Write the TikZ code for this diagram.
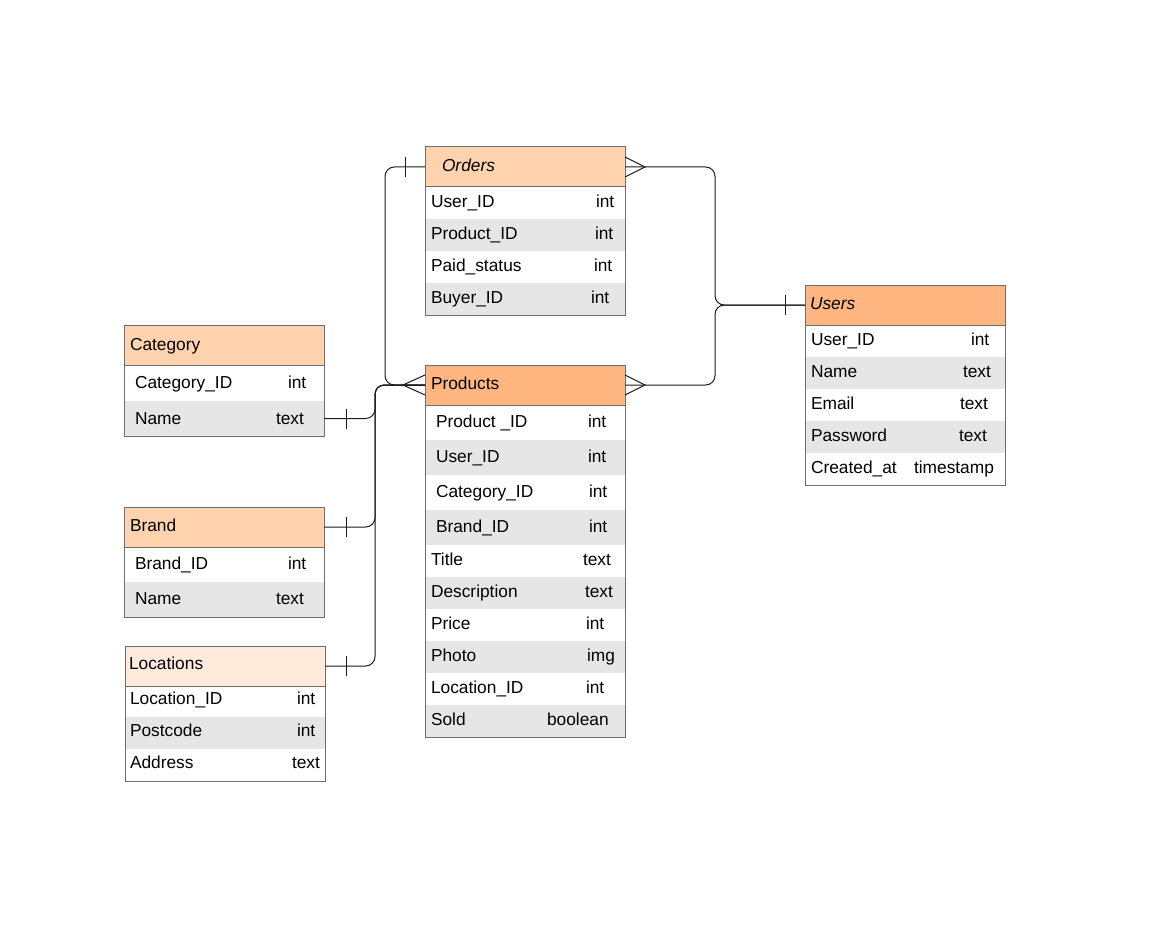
\documentclass[tikz,border=0pt]{standalone}
\usepackage{fontspec}
\setmainfont{Liberation Sans}
\definecolor{hdlight}{HTML}{FFD3AD}
\definecolor{hddark}{HTML}{FFB680}
\definecolor{hdpale}{HTML}{FFEADC}
\definecolor{rowgray}{HTML}{E6E6E6}
\definecolor{framegray}{HTML}{6E6E6E}
\definecolor{linecol}{HTML}{1A1A1A}
\tikzset{
  rowbox/.style={rectangle, inner sep=0, outer sep=0, minimum width=150pt, draw=none},
  headbox/.style={rectangle, inner sep=0, outer sep=0, minimum width=150pt, minimum height=30pt, draw=framegray, line width=0.75pt},
  tabframe/.style={rectangle, inner sep=0, outer sep=0, minimum width=150pt, draw=framegray, line width=0.75pt},
  fieldtext/.style={anchor=base west, inner sep=0, outer sep=0, font=\fontsize{13}{15}\selectfont},
  conn/.style={draw=linecol, line width=0.75pt, rounded corners=7pt},
  tickline/.style={draw=linecol, line width=0.75pt}
}
\newcommand\tabrow[9]{%
  \node[rowbox, fill=#5, minimum height={#4*0.75pt}] (#1) at ({#2+100},{#3+#4/2}) {};
  \node[fieldtext] (#1-n) at (#6,{#3+#4/2+\tblofs}) {#7};
  \node[fieldtext] (#1-t) at (#8,{#3+#4/2+\tblofs}) {#9};}
\newcommand\tabbox[4]{\node[tabframe, minimum height={#4*0.75pt}] (#1) at ({#2+100},{#3+#4/2}) {};}
\newcommand\tabhead[6]{%
  \node[headbox, fill=#4] (#1) at ({#2+100},{#3+20}) {};
  \node[fieldtext] (#1-n) at (#5,{#3+20+\tblofs}) {#6};}
\begin{document}
\begin{tikzpicture}[x=0.75pt,y=-0.75pt]
\fill[white] (0,0) rectangle (1157,945);
\useasboundingbox (0,0) rectangle (1157,945);

% ---------- Orders ----------
\def\tblofs{4.5}
\tabrow{ord1}{425}{187}{32}{white}{431}{User\_ID}{596}{int}
\tabrow{ord2}{425}{219}{32}{rowgray}{431}{Product\_ID}{595}{int}
\tabrow{ord3}{425}{251}{32}{white}{431}{Paid\_status}{594}{int}
\tabrow{ord4}{425}{283}{32}{rowgray}{431}{Buyer\_ID}{591}{int}
\tabbox{orders}{425}{147}{168}
\tabhead{ordh}{425}{147}{hdlight}{442}{\itshape Orders}

% ---------- Products ----------
\def\tblofs{4.5}
\tabrow{pr1}{425}{405}{35}{white}{436}{Product \_ID}{588}{int}
\tabrow{pr2}{425}{440}{35}{rowgray}{436}{User\_ID}{588}{int}
\tabrow{pr3}{425}{475}{35}{white}{436}{Category\_ID}{589}{int}
\tabrow{pr4}{425}{510}{35}{rowgray}{436}{Brand\_ID}{589}{int}
\tabrow{pr5}{425}{545}{32}{white}{431}{Title}{583}{text}
\tabrow{pr6}{425}{577}{32}{rowgray}{431}{Description}{585}{text}
\tabrow{pr7}{425}{609}{32}{white}{431}{Price}{586}{int}
\tabrow{pr8}{425}{641}{32}{rowgray}{431}{Photo}{587}{img}
\tabrow{pr9}{425}{673}{32}{white}{431}{Location\_ID}{586}{int}
\tabrow{pr10}{425}{705}{32}{rowgray}{431}{Sold}{547}{boolean}
\tabbox{products}{425}{365}{372}
\tabhead{prodh}{425}{365}{hddark}{431}{Products}

% ---------- Users ----------
\def\tblofs{4}
\tabrow{us1}{805}{325}{32}{white}{811}{User\_ID}{971}{int}
\tabrow{us2}{805}{357}{32}{rowgray}{811}{Name}{963}{text}
\tabrow{us3}{805}{389}{32}{white}{811}{Email}{960}{text}
\tabrow{us4}{805}{421}{32}{rowgray}{811}{Password}{959}{text}
\tabrow{us5}{805}{453}{32}{white}{811}{Created\_at}{914}{timestamp}
\tabbox{users}{805}{285}{200}
\tabhead{usrh}{805}{285}{hddark}{810}{\itshape Users}

% ---------- Category ----------
\def\tblofs{5.5}
\tabrow{cat1}{124}{365}{36}{white}{135}{Category\_ID}{288}{int}
\tabrow{cat2}{124}{401}{35}{rowgray}{135}{Name}{276}{text}
\tabbox{category}{124}{325}{111}
\tabhead{cath}{124}{325}{hdlight}{130}{Category}

% ---------- Brand ----------
\def\tblofs{4.5}
\tabrow{br1}{124}{547}{35}{white}{135}{Brand\_ID}{288}{int}
\tabrow{br2}{124}{582}{35}{rowgray}{135}{Name}{276}{text}
\tabbox{brand}{124}{507}{110}
\tabhead{brdh}{124}{507}{hdlight}{130}{Brand}

% ---------- Locations ----------
\def\tblofs{3}
\tabrow{lo1}{125}{686}{31}{white}{130}{Location\_ID}{297}{int}
\tabrow{lo2}{125}{717}{32}{rowgray}{130}{Postcode}{297}{int}
\tabrow{lo3}{125}{749}{32}{white}{130}{Address}{292}{text}
\tabbox{locations}{125}{646}{135}
\tabhead{loch}{125}{646}{hdpale}{129}{Locations}

% ---------- bus coordinates ----------
\coordinate (lbus) at (375,0);
\coordinate (obus) at (385,0);
\coordinate (rbus) at (715,0);

% ---------- connectors ----------
\draw[conn] (ordh.west) -| (obus |- prodh.west) -- (prodh.west);
\draw[conn] (cat2.east) -| (lbus |- prodh.west) -- (prodh.west);
\draw[conn] (brdh.east) -| (lbus |- prodh.west) -- (prodh.west);
\draw[conn] (loch.east) -| (lbus |- prodh.west) -- (prodh.west);
\draw[conn] (ordh.east) -| (rbus |- usrh.west) -- (usrh.west);
\draw[conn] (prodh.east) -| (rbus |- usrh.west) -- (usrh.west);

% ---------- one-ticks ----------
\draw[tickline] ([shift={(-20,-10)}]ordh.west) -- ([shift={(-20,10)}]ordh.west);
\draw[tickline] ([shift={(22,-10)}]cat2.east) -- ([shift={(22,10)}]cat2.east);
\draw[tickline] ([shift={(22,-10)}]brdh.east) -- ([shift={(22,10)}]brdh.east);
\draw[tickline] ([shift={(21,-10)}]loch.east) -- ([shift={(21,10)}]loch.east);
\draw[tickline] ([shift={(-20,-10)}]usrh.west) -- ([shift={(-20,10)}]usrh.west);

% ---------- crow's feet ----------
\draw[tickline] ([shift={(0,-10)}]prodh.west) -- ([shift={(-22,0)}]prodh.west) -- ([shift={(0,10)}]prodh.west);
\draw[tickline] ([shift={(0,-10)}]prodh.east) -- ([shift={(20,0)}]prodh.east) -- ([shift={(0,10)}]prodh.east);
\draw[tickline] ([shift={(0,-10)}]ordh.east) -- ([shift={(20,0)}]ordh.east) -- ([shift={(0,10)}]ordh.east);
\end{tikzpicture}
\end{document}
